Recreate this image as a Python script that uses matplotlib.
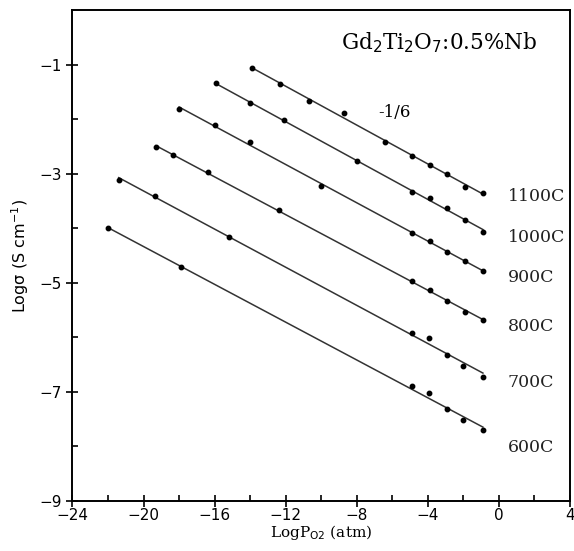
import numpy as np
import matplotlib
matplotlib.use("Agg")
import matplotlib.pyplot as plt
from matplotlib.ticker import MultipleLocator, FixedLocator

# data: log pO2 (atm) vs log sigma (S/cm)
temps = ["1100C", "1000C", "900C", "800C", "700C", "600C"]

x_1100 = [-13.9, -12.3, -10.7, -8.7, -6.4, -4.9, -3.9, -2.9, -1.9, -0.9]
y_1100 = [-1.06, -1.35, -1.66, -1.88, -2.41, -2.67, -2.83, -3.00, -3.24, -3.35]

x_1000 = [-15.9, -14.0, -12.1, -8.0, -4.9, -3.9, -2.9, -1.9, -0.9]
y_1000 = [-1.34, -1.70, -2.02, -2.76, -3.34, -3.45, -3.63, -3.84, -4.06]

x_900 = [-18.0, -16.0, -14.0, -10.0, -4.9, -3.9, -2.9, -1.9, -0.9]
y_900 = [-1.81, -2.11, -2.42, -3.22, -4.08, -4.23, -4.43, -4.60, -4.79]

x_800 = [-19.3, -18.35, -16.4, -12.35, -4.9, -3.9, -2.9, -1.9, -0.9]
y_800 = [-2.51, -2.66, -2.96, -3.67, -4.96, -5.13, -5.33, -5.54, -5.68]

x_700 = [-21.4, -19.35, -15.2, -4.9, -3.95, -2.9, -2.0, -0.9]
y_700 = [-3.11, -3.40, -4.16, -5.92, -6.01, -6.32, -6.52, -6.72]

x_600 = [-22.0, -17.9, -4.9, -3.95, -2.9, -2.0, -0.9]
y_600 = [-4.00, -4.71, -6.89, -7.02, -7.32, -7.52, -7.71]

label_y = [-3.42, -4.17, -4.91, -5.81, -6.83, -8.03]

series = [(x_1100, y_1100), (x_1000, y_1000), (x_900, y_900),
          (x_800, y_800), (x_700, y_700), (x_600, y_600)]

fig = plt.figure(figsize=(5.74, 5.51), dpi=100)
ax = fig.add_axes([0.1263, 0.0913, 0.993 - 0.1263, 0.981 - 0.0913])

for (xs, ys), name, ly in zip(series, temps, label_y):
    xs = np.array(xs)
    ys = np.array(ys)
    # least squares line through the points, drawn over the data range
    k, b = np.polyfit(xs, ys, 1)
    xx = np.array([xs.min(), xs.max()])
    ax.plot(xx, k * xx + b, color="#333333", lw=1.1)
    ax.plot(xs, ys, "o", color="black", ms=3.2)
    ax.text(0.5, ly, name, ha="left", va="center", fontsize=12.5,
            family="DejaVu Serif", color="#222222")

ax.text(-6.8, -1.88, "-1/6", ha="left", va="center", fontsize=12,
        family="DejaVu Serif")
ax.text(-8.9, -0.6, "Gd$_2$Ti$_2$O$_7$:0.5%Nb", ha="left", va="center",
        fontsize=15.5, family="DejaVu Serif")

ax.set_xlim(-24, 4)
ax.set_ylim(-9, 0)
ax.xaxis.set_major_locator(MultipleLocator(4))
ax.xaxis.set_minor_locator(MultipleLocator(2))
ax.yaxis.set_major_locator(FixedLocator([-9, -7, -5, -3, -1]))
ax.yaxis.set_minor_locator(FixedLocator([-8, -6, -4, -2]))
ax.tick_params(which="major", direction="inout", length=8, width=1.2,
               labelsize=11, top=False, right=False)
ax.tick_params(axis="x", which="major", pad=1)
ax.tick_params(which="minor", direction="in", length=4, width=1.2,
               top=False, right=False)
for s in ax.spines.values():
    s.set_linewidth(1.4)

ax.set_xlabel("LogP$_{\\mathrm{O2}}$ (atm)", fontsize=11, family="DejaVu Serif",
              labelpad=0)
ax.set_ylabel("Log\u03c3 (S cm$^{-1}$)", fontsize=11.5, labelpad=6)

fig.savefig("out.png", dpi=100)
